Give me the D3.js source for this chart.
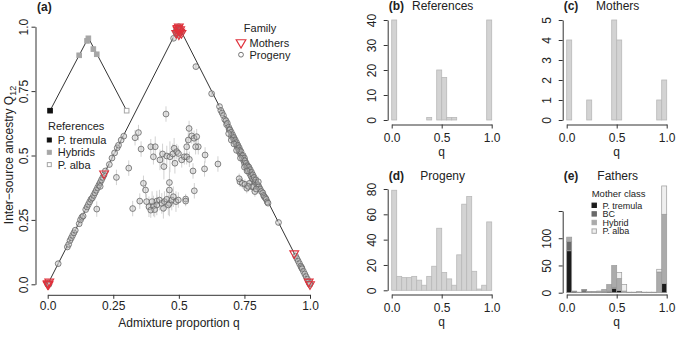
<!DOCTYPE html>
<html>
<head>
<meta charset="utf-8">
<script src="https://cdn.jsdelivr.net/npm/d3@7"></script>
<style>
  body { margin: 0; background: #fff; }
  text { font-family: "Liberation Sans", Arial, sans-serif; fill: #222; }
</style>
</head>
<body>
<svg id="fig" width="677" height="338"></svg>
<script>
// ---- data ----
// panel (a): triangle frame and reference inset
const frameQ = [0, 0.5, 1];
const frameQ12 = [0, 1, 0];
const refLineQ = [0.009, 0.155, 0.301];
const refLineQ12 = [0.674, 0.957, 0.674];
const refPtQ = [0.009, 0.12, 0.15, 0.155, 0.174, 0.187, 0.301];
const refPtQ12 = [0.674, 0.889, 0.945, 0.955, 0.913, 0.893, 0.674];
const refPtClass = ["P. tremula", "Hybrids", "Hybrids", "Hybrids", "Hybrids", "Hybrids", "P. alba"];
const refClasses = ["P. tremula", "Hybrids", "P. alba"];

// mothers (q, Q12)
const motherQ = [0, 0, 0.003, 0.006, 0.215, 0.49, 0.495, 0.5, 0.5, 0.5, 0.505, 0.505, 0.51, 0.495, 0.94, 0.995, 1];
const motherQ12 = [0, 0.004, 0, 0.01, 0.43, 0.975, 0.99, 1, 0.985, 0.97, 0.99, 0.98, 0.975, 0.995, 0.12, 0.01, 0];

// progeny lying on the triangle edges [q, Q12]
const progenyEdge = [
  [0, 0], [0.003, 0.005], [0.005, 0], [0.04, 0.08], [0.075, 0.145], [0.08, 0.155], [0.085, 0.17],
  [0.09, 0.18], [0.095, 0.19], [0.1, 0.2], [0.105, 0.21], [0.12, 0.235], [0.125, 0.25], [0.13, 0.26],
  [0.135, 0.265], [0.145, 0.29], [0.15, 0.3], [0.155, 0.31], [0.16, 0.32], [0.165, 0.33], [0.17, 0.335],
  [0.175, 0.345], [0.18, 0.355], [0.185, 0.365], [0.19, 0.375], [0.195, 0.385], [0.2, 0.395], [0.2, 0.38],
  [0.205, 0.405], [0.21, 0.415], [0.215, 0.425], [0.22, 0.44], [0.235, 0.465], [0.245, 0.49], [0.255, 0.51],
  [0.265, 0.53], [0.27, 0.54], [0.28, 0.56], [0.29, 0.575], [0.48, 0.955], [0.49, 0.975],
  [0.495, 0.99], [0.5, 1], [0.5, 0.985], [0.505, 0.99], [0.495, 0.975], [0.51, 0.98], [0.49, 0.985], [0.5, 0.97],
  [0.565, 0.845], [0.625, 0.74], [0.655, 0.69], [0.66, 0.675], [0.665, 0.665], [0.67, 0.655], [0.675, 0.64],
  [0.68, 0.635], [0.682, 0.62], [0.685, 0.625], [0.69, 0.61], [0.692, 0.6], [0.695, 0.6], [0.7, 0.59],
  [0.7, 0.575], [0.705, 0.58], [0.708, 0.565], [0.71, 0.57], [0.712, 0.555], [0.715, 0.56], [0.718, 0.545],
  [0.72, 0.55], [0.722, 0.535], [0.725, 0.54], [0.727, 0.525], [0.73, 0.53], [0.73, 0.515], [0.733, 0.52],
  [0.735, 0.505], [0.737, 0.515], [0.74, 0.5], [0.742, 0.49], [0.745, 0.5], [0.747, 0.48], [0.75, 0.49],
  [0.75, 0.47], [0.752, 0.48], [0.755, 0.46], [0.757, 0.47], [0.76, 0.45], [0.762, 0.46], [0.765, 0.44],
  [0.767, 0.455], [0.77, 0.43], [0.772, 0.445], [0.775, 0.42], [0.777, 0.435], [0.78, 0.41], [0.782, 0.425],
  [0.785, 0.405], [0.787, 0.415], [0.79, 0.395], [0.793, 0.405], [0.797, 0.39], [0.8, 0.385], [0.805, 0.38],
  [0.81, 0.37], [0.815, 0.36], [0.82, 0.355], [0.823, 0.345], [0.826, 0.34], [0.83, 0.335], [0.833, 0.33],
  [0.837, 0.32], [0.84, 0.315], [0.69, 0.585], [0.7, 0.56], [0.72, 0.52], [0.735, 0.49], [0.75, 0.455],
  [0.71, 0.545], [0.76, 0.44], [0.88, 0.24],
  [0.945, 0.11], [0.95, 0.1], [0.955, 0.09], [0.96, 0.08], [0.965, 0.07], [0.968, 0.065], [0.97, 0.06],
  [0.975, 0.05], [0.98, 0.04], [0.985, 0.03], [0.99, 0.02], [0.995, 0.01], [1, 0], [0.998, 0.003]
];

// progeny inside the triangle [q, Q12, half error bar]
const progenyMid = [
  [0.451, 0.661, 0.03], [0.333, 0.569, 0.03], [0.346, 0.589, 0.03], [0.356, 0.525, 0.03], [0.309, 0.451, 0.03],
  [0.262, 0.415, 0.03], [0.187, 0.292, 0.03], [0.324, 0.294, 0.03], [0.393, 0.534, 0.03], [0.403, 0.495, 0.03],
  [0.41, 0.534, 0.04], [0.428, 0.483, 0.04], [0.438, 0.506, 0.04], [0.443, 0.457, 0.05], [0.454, 0.498, 0.04],
  [0.466, 0.495, 0.06], [0.477, 0.506, 0.04], [0.482, 0.528, 0.04], [0.492, 0.515, 0.03], [0.498, 0.508, 0.03],
  [0.485, 0.47, 0.04], [0.511, 0.483, 0.03], [0.521, 0.495, 0.03], [0.53, 0.534, 0.03], [0.536, 0.56, 0.03],
  [0.539, 0.605, 0.03], [0.549, 0.576, 0.03], [0.558, 0.567, 0.03], [0.568, 0.573, 0.03], [0.574, 0.534, 0.03],
  [0.53, 0.495, 0.03], [0.54, 0.485, 0.03], [0.554, 0.44, 0.03], [0.6, 0.502, 0.03], [0.598, 0.448, 0.03],
  [0.649, 0.467, 0.03], [0.564, 0.534, 0.03], [0.464, 0.395, 0.06], [0.464, 0.366, 0.04], [0.365, 0.392, 0.03],
  [0.373, 0.366, 0.03], [0.351, 0.323, 0.03], [0.559, 0.363, 0.03], [0.526, 0.331, 0.02], [0.526, 0.323, 0.02],
  [0.377, 0.321, 0.03], [0.386, 0.301, 0.04], [0.393, 0.288, 0.03], [0.403, 0.304, 0.04], [0.416, 0.323, 0.04],
  [0.426, 0.327, 0.04], [0.435, 0.314, 0.04], [0.445, 0.321, 0.04], [0.454, 0.33, 0.04], [0.464, 0.314, 0.05],
  [0.473, 0.327, 0.04], [0.479, 0.34, 0.04], [0.489, 0.321, 0.04], [0.498, 0.327, 0.03], [0.441, 0.295, 0.04],
  [0.46, 0.308, 0.04], [0.416, 0.308, 0.04], [0.398, 0.321, 0.04], [0.408, 0.29, 0.03],
  [0.733, 0.398, 0.02], [0.742, 0.392, 0.02], [0.752, 0.388, 0.02], [0.759, 0.373, 0.02], [0.769, 0.392, 0.02],
  [0.778, 0.379, 0.02], [0.784, 0.379, 0.02], [0.79, 0.36, 0.02], [0.795, 0.37, 0.02], [0.803, 0.398, 0.02],
  [0.73, 0.41, 0.02], [0.765, 0.38, 0.02]
];

// histograms, 20 bins of width 0.05 on q
const binWidth = 0.05;
const refCounts = [40, 0, 0, 0, 0, 0, 0, 1, 0, 20, 17, 1, 1, 0, 0, 0, 0, 0, 0, 40];
const motherCounts = [4, 0, 0, 0, 1, 0, 0, 0, 0, 5, 4, 0, 0, 0, 0, 0, 0, 0, 1, 2];
const progenyCounts = [79, 11, 10, 10, 11, 8, 4, 11, 19, 49, 14, 9, 4, 28, 68, 74, 15, 1, 4, 54];
// fathers, stacked by mother class
const motherClasses = ["P. tremula", "BC", "Hybrid", "P. alba"];
const fatherTremula = [77, 2, 0, 1, 0, 0, 0, 1, 2, 8, 4, 0, 0, 0, 0, 0, 0, 0, 0, 17];
const fatherBC = [17, 1, 1, 4, 1, 1, 1, 1, 1, 2, 0, 0, 0, 0, 0, 0, 0, 0, 0, 0];
const fatherHybrid = [8, 0, 0, 1, 1, 1, 2, 4, 12, 40, 22, 3, 1, 1, 2, 1, 1, 1, 38, 127];
const fatherAlba = [0, 0, 0, 0, 0, 0, 0, 0, 0, 0, 11, 12, 0, 0, 0, 0, 0, 0, 5, 52];

const aTicks = [0, 0.25, 0.5, 0.75, 1];
const aTickLabels = ["0.0", "0.25", "0.5", "0.75", "1.0"];
const qTicks = [0, 0.5, 1];
const qTickLabels = ["0.0", "0.5", "1.0"];

// ---- drawing ----
const svg = d3.select("#fig");
const axisColor = "#333";

function styleAxis(sel, fs) {
  sel.attr("font-size", fs).attr("font-family", null);
  sel.selectAll("line, path").attr("stroke", axisColor);
  sel.selectAll("text").attr("fill", "#222");
}
function rotateYLabels(sel, off) {
  sel.selectAll(".tick text")
    .attr("x", 0).attr("dy", 0)
    .attr("text-anchor", "middle")
    .attr("transform", `translate(${-off},0) rotate(-90)`);
}

// panel (a)
const xA = d3.scaleLinear().domain([0, 1]).range([47.7, 310]);
const yA = d3.scaleLinear().domain([0, 1]).range([284.3, 26.7]);
const gA = svg.append("g");

gA.append("g").attr("transform", "translate(0,294.8)")
  .call(d3.axisBottom(xA).tickValues(aTicks).tickFormat((d, i) => aTickLabels[i]).tickSize(4).tickSizeOuter(0).tickPadding(3))
  .call(styleAxis, 12);
gA.append("g").attr("transform", "translate(35.5,0)")
  .call(d3.axisLeft(yA).tickValues(aTicks).tickFormat((d, i) => aTickLabels[i]).tickSize(4).tickSizeOuter(0))
  .call(styleAxis, 12)
  .call(rotateYLabels, 8);

gA.append("text").attr("x", 179).attr("y", 327).attr("text-anchor", "middle").attr("font-size", 12)
  .text("Admixture proportion q");
const yTitle = gA.append("text").attr("transform", "translate(12.5,155) rotate(-90)")
  .attr("text-anchor", "middle").attr("font-size", 12);
yTitle.append("tspan").text("Inter\u2212source ancestry Q");
yTitle.append("tspan").attr("font-size", 9).attr("dy", 3).text("12");
gA.append("text").attr("x", 37).attr("y", 11).attr("font-size", 12).attr("font-weight", "bold").text("(a)");

const lineA = d3.line().x(d => xA(d[0])).y(d => yA(d[1]));
gA.append("path").datum(frameQ.map((q, i) => [q, frameQ12[i]]))
  .attr("d", lineA).attr("fill", "none").attr("stroke", "#333").attr("stroke-width", 1);
gA.append("path").datum(refLineQ.map((q, i) => [q, refLineQ12[i]]))
  .attr("d", lineA).attr("fill", "none").attr("stroke", "#333").attr("stroke-width", 1);

const refFill = { "P. tremula": "#111", "Hybrids": "#a6a6a6", "P. alba": "#fff" };
const refStroke = { "P. tremula": "#111", "Hybrids": "#a6a6a6", "P. alba": "#a6a6a6" };
gA.selectAll("rect.ref").data(refPtQ.map((q, i) => ({ q, Q: refPtQ12[i], c: refPtClass[i] })))
  .enter().append("rect").attr("class", "ref")
  .attr("x", d => xA(d.q) - 2.3).attr("y", d => yA(d.Q) - 2.3)
  .attr("width", 4.6).attr("height", 4.6)
  .attr("fill", d => refFill[d.c]).attr("stroke", d => refStroke[d.c]).attr("stroke-width", 1);

const progeny = progenyEdge.map(d => [d[0], d[1], 0.01]).concat(progenyMid);
gA.selectAll("line.err").data(progeny).enter().append("line").attr("class", "err")
  .attr("x1", d => xA(d[0])).attr("x2", d => xA(d[0]))
  .attr("y1", d => yA(d[1] - d[2])).attr("y2", d => yA(d[1] + d[2]))
  .attr("stroke", "#d2d2d2").attr("stroke-width", 1);

const triangle = d3.symbol().type(d3.symbolTriangle).size(34);
const mothers = motherQ.map((q, i) => [q, motherQ12[i]]);
gA.selectAll("circle.prog").data(progeny).enter().append("circle").attr("class", "prog")
  .attr("cx", d => xA(d[0])).attr("cy", d => yA(d[1])).attr("r", 2.9)
  .attr("fill", "rgba(190,190,190,0.4)").attr("stroke", "#666").attr("stroke-width", 0.8);

gA.selectAll("path.mother").data(mothers).enter().append("path").attr("class", "mother")
  .attr("d", triangle)
  .attr("transform", d => `translate(${xA(d[0])},${yA(d[1])}) rotate(180)`)
  .attr("fill", "none").attr("stroke", "#e0313b").attr("stroke-width", 1.1);

// legend: References
const legR = gA.append("g");
legR.append("text").attr("x", 48).attr("y", 129.5).attr("font-size", 11).text("References");
refClasses.forEach((c, i) => {
  const cy = 140 + i * 12.3;
  legR.append("rect").attr("x", 47.3).attr("y", cy - 2).attr("width", 4).attr("height", 4)
    .attr("fill", refFill[c]).attr("stroke", refStroke[c]);
  legR.append("text").attr("x", 57.7).attr("y", cy + 4).attr("font-size", 11).text(c);
});

// legend: Family
const legF = gA.append("g");
legF.append("text").attr("x", 260).attr("y", 31.5).attr("text-anchor", "middle").attr("font-size", 11).text("Family");
legF.append("path").attr("d", d3.symbol().type(d3.symbolTriangle).size(40))
  .attr("transform", "translate(241,42.5) rotate(180)")
  .attr("fill", "none").attr("stroke", "#e0313b").attr("stroke-width", 1.2);
legF.append("text").attr("x", 249.5).attr("y", 47).attr("font-size", 11).text("Mothers");
legF.append("circle").attr("cx", 241).attr("cy", 54.7).attr("r", 2.4)
  .attr("fill", "none").attr("stroke", "#666").attr("stroke-width", 0.9);
legF.append("text").attr("x", 249.5).attr("y", 58.7).attr("font-size", 11).text("Progeny");

// histogram panels
function histPanel(o) {
  const g = svg.append("g");
  const x = d3.scaleLinear().domain([0, 1]).range([o.x0, o.x0 + 100]);
  const y = d3.scaleLinear().domain([0, o.ymax]).range([o.yBase, o.yTop]);
  g.append("g").attr("transform", `translate(0,${o.xAxisY})`)
    .call(d3.axisBottom(x).tickValues(qTicks).tickFormat((d, i) => qTickLabels[i]).tickSize(4).tickSizeOuter(0).tickPadding(5))
    .call(styleAxis, 12);
  const yAxis = d3.axisLeft(y).tickValues(o.yTicks).tickSize(4).tickSizeOuter(0)
    .tickFormat(d => (o.hideLabels && o.hideLabels.includes(d)) ? "" : d);
  g.append("g").attr("transform", `translate(${o.x0 - 4},0)`)
    .call(yAxis).call(styleAxis, 12).call(rotateYLabels, 11.5);
  g.append("text").attr("x", o.x0 + 50).attr("y", o.xAxisY + 31).attr("text-anchor", "middle")
    .attr("font-size", 12).text("q");
  g.append("text").attr("x", o.x0 - 3).attr("y", o.titleY).attr("font-size", 12)
    .attr("font-weight", "bold").text(o.tag);
  g.append("text").attr("x", o.x0 + 51).attr("y", o.titleY).attr("text-anchor", "middle")
    .attr("font-size", 12).text(o.title);
  return { g, x, y };
}

function simpleHist(o, counts) {
  const p = histPanel(o);
  p.g.selectAll("rect.bar").data(counts).enter().append("rect").attr("class", "bar")
    .attr("x", (d, i) => p.x(i * binWidth)).attr("width", p.x(binWidth) - p.x(0))
    .attr("y", d => p.y(d)).attr("height", d => p.y(0) - p.y(d))
    .attr("fill", "#d3d3d3").attr("stroke", "#b8b8b8").attr("stroke-width", 0.8);
}

simpleHist({ x0: 391.7, yBase: 120, yTop: 20, ymax: 40, yTicks: [0, 10, 20, 30, 40], xAxisY: 124.5,
  tag: "(b)", title: "References", titleY: 9.5 }, refCounts);
simpleHist({ x0: 566.7, yBase: 120, yTop: 20, ymax: 5, yTicks: [0, 1, 2, 3, 4, 5], xAxisY: 124.5,
  tag: "(c)", title: "Mothers", titleY: 9.5 }, motherCounts);
simpleHist({ x0: 391.7, yBase: 290.3, yTop: 189, ymax: 80, yTicks: [0, 20, 40, 60, 80], xAxisY: 294.5,
  tag: "(d)", title: "Progeny", titleY: 179.5 }, progenyCounts);

// (e) fathers, stacked
const pe = histPanel({ x0: 566.7, yBase: 292.7, yTop: 211, ymax: 150, yTicks: [0, 50, 100, 150], hideLabels: [150],
  xAxisY: 294.5, tag: "(e)", title: "Fathers", titleY: 179.5 });
const fatherRows = fatherTremula.map((v, i) => ({
  "P. tremula": v, "BC": fatherBC[i], "Hybrid": fatherHybrid[i], "P. alba": fatherAlba[i], bin: i
}));
const stack = d3.stack().keys(motherClasses)(fatherRows);
const classFill = { "P. tremula": "#1c1c1c", "BC": "#6a6a6a", "Hybrid": "#ababab", "P. alba": "#efefef" };
pe.g.selectAll("g.layer").data(stack).enter().append("g").attr("class", "layer")
  .attr("fill", d => classFill[d.key])
  .selectAll("rect").data(d => d).enter().append("rect")
  .attr("x", d => pe.x(d.data.bin * binWidth)).attr("width", pe.x(binWidth) - pe.x(0))
  .attr("y", d => pe.y(d[1])).attr("height", d => pe.y(d[0]) - pe.y(d[1]))
  .attr("stroke", "#9a9a9a").attr("stroke-width", 0.7);

const legE = pe.g.append("g");
legE.append("text").attr("x", 591.7).attr("y", 196.5).attr("font-size", 9.5).text("Mother class");
motherClasses.forEach((c, i) => {
  const cy = 205.3 + i * 8.6;
  legE.append("rect").attr("x", 592).attr("y", cy - 2.2).attr("width", 4.4).attr("height", 4.4)
    .attr("fill", classFill[c]).attr("stroke", c === "P. alba" ? "#aaa" : classFill[c]);
  legE.append("text").attr("x", 602.5).attr("y", cy + 3.2).attr("font-size", 9).text(c);
});
</script>
</body>
</html>
